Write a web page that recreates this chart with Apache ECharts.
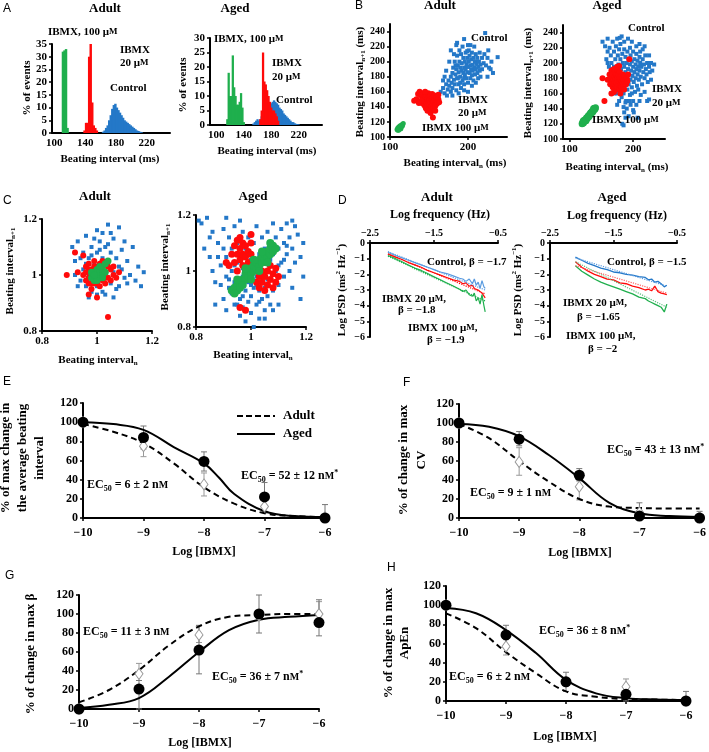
<!DOCTYPE html>
<html><head><meta charset="utf-8">
<script src="https://cdn.jsdelivr.net/npm/echarts@6/dist/echarts.min.js"></script>
<style>html,body{margin:0;padding:0;background:#fff}#c{width:709px;height:752px}</style>
</head><body><div id="c"></div>
<script>
// ---------- DATA ----------
// A: histograms [beating interval (ms), % of events], 2-ms bins
const histAdultControl = [[163,0.5],[165,1],[167,2],[169,3],[171,5],[173,7],[175,9.5],[177,11],[179,11.5],[181,10],[183,9],[185,8],[187,7],[189,6],[191,5],[193,4.5],[195,4],[197,3.5],[199,3],[201,2.5],[203,2],[205,1.5],[207,1],[209,0.8],[211,0.5],[213,0.3]];
const histAdultIBMX20 = [[139,1],[141,4],[143,4],[145,30],[147,35],[149,12],[151,3],[153,2],[155,1]];
const histAdultIBMX100 = [[111,32],[113,32.5],[115,33],[117,2]];
const histAgedControl = [[154,0.5],[156,1],[158,1.5],[160,2],[162,1.5],[164,2],[166,3],[168,4],[170,5],[172,5.5],[174,6],[176,6.5],[178,7],[180,7.5],[182,8],[184,8.5],[186,8],[188,7.5],[190,7],[192,6],[194,5.5],[196,5],[198,4],[200,3.5],[202,3],[204,2.5],[206,2],[208,1.5],[210,1],[212,1],[214,0.6],[216,0.4],[218,0.3],[220,0.2]];
const histAgedIBMX20 = [[164,2],[166,5],[168,25],[170,15],[172,14],[174,12],[176,10],[178,8],[180,6],[182,5],[184,5],[186,4],[188,3],[190,1.5]];
const histAgedIBMX100 = [[116,2],[118,18],[120,10],[122,10],[124,24],[126,13],[128,10],[130,7],[132,7],[134,8],[136,11],[138,6],[140,1]];
const histTicks = [100,140,180,220];
const histBin = 2;

// B: return maps [interval n, interval n+1] (ms)
const bAdultControl = [[165,160],[168,165],[170,158],[172,170],[174,163],[175,175],[176,168],[178,160],[178,180],[179,172],[180,185],[180,165],[181,192],[182,176],[183,170],[183,200],[184,183],[185,162],[185,190],[186,178],[186,208],[187,195],[188,170],[188,186],[189,200],[189,215],[190,180],[190,192],[191,165],[191,210],[192,188],[192,198],[193,175],[193,220],[194,185],[194,205],[195,192],[195,170],[196,200],[196,182],[197,212],[197,190],[198,178],[198,196],[199,205],[199,186],[200,193],[200,172],[201,200],[201,215],[202,185],[202,208],[203,195],[203,178],[204,190],[204,203],[205,182],[205,212],[206,196],[206,188],[207,175],[207,205],[208,192],[209,200],[209,183],[210,210],[210,190],[211,197],[212,185],[212,205],[213,193],[214,200],[215,188],[215,212],[216,196],[218,205],[218,190],[220,198],[221,210],[223,195],[225,205],[227,192],[230,200],[238,206],[232,185],[216,180],[195,230],[222,238],[185,222],[178,215],[172,188],[176,200],[182,210],[170,180],[168,175],[173,155],[180,155],[188,158],[195,162],[200,160],[205,168],[210,172],[213,178],[186,225],[200,222],[208,220],[226,215],[229,190],[225,180],[190,172],[184,195],[187,178],[195,178],[199,214],[203,222]];
const bAdultIBMX20 = [[131,148],[134,150],[136,157],[138,160],[140,155],[141,145],[142,150],[143,158],[144,142],[145,148],[145,153],[146,138],[147,145],[147,155],[148,150],[148,141],[149,147],[149,158],[150,152],[150,144],[151,137],[151,149],[152,155],[152,146],[153,140],[153,151],[154,148],[154,157],[155,143],[155,152],[156,146],[156,138],[157,150],[157,155],[158,145],[158,141],[159,149],[160,153],[160,144],[161,147],[162,150],[163,146],[155,126],[148,135],[152,132],[145,160],[140,148],[137,145],[158,135],[162,156]];
const bAdultIBMX100 = [[109,110],[110,112],[110,109],[111,113],[111,111],[112,110],[112,114],[113,112],[113,115],[114,113],[114,111],[115,116],[115,114],[116,115],[116,117],[117,118],[112,112],[113,113],[114,115],[111,109]];
const bAgedControl = [[152,228],[156,222],[160,215],[160,232],[163,220],[165,210],[166,200],[168,228],[170,215],[170,195],[172,205],[173,222],[175,232],[175,188],[176,210],[177,198],[178,218],[179,180],[180,205],[180,225],[181,192],[182,170],[183,212],[184,185],[184,200],[185,160],[186,218],[186,195],[187,175],[188,208],[188,188],[189,150],[190,200],[190,180],[191,215],[191,165],[192,192],[193,205],[193,172],[194,185],[195,198],[195,158],[196,210],[196,178],[197,190],[198,202],[198,168],[199,183],[200,195],[200,215],[201,175],[202,205],[202,188],[203,162],[204,198],[204,180],[205,212],[205,192],[206,170],[207,203],[207,185],[208,195],[209,178],[210,208],[210,190],[211,200],[212,182],[213,195],[214,172],[215,205],[216,188],[217,198],[218,180],[219,210],[220,192],[221,185],[222,200],[223,175],[225,195],[226,188],[228,200],[230,190],[233,198],[215,218],[210,225],[205,222],[198,228],[192,232],[182,235],[208,165],[212,158],[218,162],[222,150],[225,152],[200,150],[196,145],[190,140],[186,135],[183,120],[185,118],[193,130],[188,148],[178,150],[174,160],[170,175],[165,185],[162,195],[158,205],[168,185],[180,162],[185,142],[200,138],[205,145],[210,150],[198,160],[176,175],[172,185],[182,155],[194,150],[188,128],[225,210],[218,222],[228,178],[211,215],[195,220],[186,228],[179,233],[160,200],[167,192],[171,160],[175,145],[201,135],[207,128]];
const bAgedIBMX20 = [[152,180],[155,150],[160,178],[163,185],[164,172],[165,180],[166,190],[167,175],[168,168],[168,185],[169,178],[170,172],[170,192],[171,182],[171,165],[172,176],[172,188],[173,170],[173,180],[174,185],[174,174],[175,168],[175,178],[176,190],[176,182],[177,172],[177,185],[178,176],[178,165],[179,180],[179,188],[180,170],[180,178],[181,183],[181,173],[182,176],[182,168],[183,180],[184,174],[184,185],[185,170],[185,178],[186,182],[187,175],[188,178],[189,172],[190,180],[191,176],[175,195],[178,196],[170,162],[180,160],[186,165],[192,185],[194,205],[166,160]];
const bAgedIBMX100 = [[120,120],[121,122],[122,121],[123,123],[124,125],[125,124],[126,126],[127,128],[128,127],[129,129],[130,131],[131,130],[132,132],[133,134],[134,133],[135,135],[136,137],[137,136],[138,138],[139,140],[140,139],[141,141],[122,124],[126,124],[130,129],[134,135],[138,140]];
const bTicksY = [100,120,140,160,180,200,220,240];
const bTicksX = [100,200];

// C: normalized return maps
const cAdultControl = [[0.91,1.10],[0.92,1.05],[0.93,1.12],[0.94,0.98],[0.95,1.08],[0.95,1.02],[0.96,1.14],[0.96,0.96],[0.97,1.06],[0.97,1.00],[0.98,1.10],[0.98,0.94],[0.99,1.04],[0.99,0.98],[1.00,1.16],[1.00,1.08],[1.00,0.96],[1.01,1.12],[1.01,1.02],[1.02,1.06],[1.02,0.94],[1.03,1.10],[1.03,0.99],[1.04,1.18],[1.04,1.04],[1.05,1.08],[1.05,0.97],[1.06,1.13],[1.06,1.01],[1.07,1.06],[1.07,0.95],[1.08,1.17],[1.08,1.03],[1.09,1.09],[1.10,0.99],[1.11,1.05],[1.12,1.00],[1.13,1.10],[1.14,0.98],[1.15,1.03],[1.16,0.96],[1.17,1.01],[0.96,1.04],[0.99,1.13],[1.02,1.15],[1.05,1.15],[0.94,1.06],[1.03,0.93],[1.08,0.96],[1.10,1.12],[0.97,0.92],[1.00,0.93],[1.06,0.92],[1.11,0.97],[0.93,0.96],[0.92,1.00],[1.09,1.02],[1.04,1.11],[0.98,1.07],[1.01,1.09]];
const cAdultIBMX20 = [[0.89,1.00],[0.92,1.08],[0.95,1.07],[0.93,1.01],[0.97,0.93],[1.00,0.92],[1.04,0.85],[0.95,1.00],[0.96,1.03],[0.96,0.98],[0.97,1.04],[0.97,0.99],[0.98,1.02],[0.98,0.97],[0.99,1.03],[0.99,0.99],[1.00,1.03],[1.00,0.97],[1.01,1.04],[1.01,1.00],[1.02,0.98],[1.02,1.03],[1.03,1.01],[1.03,0.97],[1.04,1.03],[1.04,0.99],[1.05,1.02],[1.05,0.98],[1.06,1.00],[1.06,1.03],[1.07,0.99],[1.08,1.01],[0.98,0.95],[1.01,0.96],[0.99,1.05],[1.02,1.05],[0.96,1.01],[1.03,0.99],[0.97,1.02],[1.00,1.01],[0.98,1.00],[1.01,1.02],[0.99,0.97],[1.02,1.01],[0.97,0.97]];
const cAdultIBMX100 = [[0.98,0.99],[0.99,1.01],[0.99,0.98],[1.00,1.00],[1.00,1.02],[1.01,0.99],[1.01,1.01],[1.02,1.00],[1.02,1.02],[1.03,1.01],[0.98,1.01],[1.00,0.98],[1.01,1.03],[1.03,1.04],[1.04,1.05],[0.99,1.00],[1.02,0.99]];
const cAgedControl = [[0.81,1.18],[0.82,1.17],[0.84,1.19],[0.85,1.12],[0.86,1.00],[0.87,0.88],[0.88,1.10],[0.89,0.95],[0.90,1.15],[0.90,0.90],[0.91,1.05],[0.91,0.86],[0.92,1.12],[0.92,0.97],[0.93,1.08],[0.93,0.92],[0.94,1.16],[0.94,1.02],[0.94,0.88],[0.95,1.10],[0.95,0.95],[0.96,1.06],[0.96,0.90],[0.96,0.84],[0.97,1.14],[0.97,0.98],[0.97,0.87],[0.98,1.08],[0.98,0.93],[0.98,0.82],[0.99,1.12],[0.99,0.96],[0.99,0.89],[1.00,1.04],[1.00,0.91],[1.00,0.85],[1.01,1.10],[1.01,0.94],[1.01,0.80],[1.02,1.16],[1.02,0.98],[1.02,0.88],[1.03,1.06],[1.03,0.93],[1.03,0.83],[1.04,1.12],[1.04,0.96],[1.04,0.90],[1.05,1.08],[1.05,0.94],[1.05,0.86],[1.06,1.14],[1.06,1.03],[1.06,0.91],[1.07,1.10],[1.07,0.97],[1.08,1.06],[1.08,0.93],[1.09,1.12],[1.09,1.00],[1.10,1.08],[1.10,0.95],[1.11,1.15],[1.11,1.03],[1.12,1.10],[1.12,0.98],[1.13,1.06],[1.14,1.12],[1.14,1.00],[1.15,1.18],[1.15,1.08],[1.16,1.03],[1.17,1.13],[1.18,1.05],[1.18,0.90],[1.19,1.10],[1.19,0.98],[1.15,0.94],[1.10,0.88],[1.08,0.86],[0.88,1.05],[0.86,1.14],[0.83,1.08],[0.87,0.96],[0.89,1.02],[0.93,1.00],[0.95,1.03],[0.97,1.01],[0.99,1.03],[1.01,1.01],[1.03,1.02],[1.05,1.00],[1.07,1.04],[0.96,0.97],[0.98,0.99],[1.00,0.97],[1.02,0.95],[1.04,0.98],[1.06,0.97],[1.08,0.99],[1.10,1.02],[1.12,1.04],[1.13,1.09],[0.92,0.94],[0.94,0.96],[1.00,0.95],[0.97,0.91],[1.03,0.89],[0.95,0.88],[1.05,0.83],[1.07,0.88],[0.91,0.98],[0.90,1.08],[0.85,1.05],[1.16,1.16],[1.13,1.17],[1.08,1.17],[0.96,1.18],[0.91,1.19]];
const cAgedIBMX20 = [[0.93,1.06],[0.94,1.09],[0.94,1.03],[0.95,1.11],[0.95,1.06],[0.95,1.00],[0.96,1.08],[0.96,1.04],[0.96,1.12],[0.97,1.10],[0.97,1.06],[0.97,1.02],[0.98,1.09],[0.98,1.05],[0.98,1.00],[0.99,1.07],[0.99,1.03],[1.00,1.06],[1.00,1.10],[1.01,1.04],[0.99,0.99],[1.02,0.96],[1.02,1.00],[1.03,0.94],[1.03,0.98],[1.03,1.02],[1.04,0.96],[1.04,1.00],[1.05,0.93],[1.05,0.98],[1.05,1.03],[1.06,0.95],[1.06,1.00],[1.07,0.97],[1.07,1.02],[1.08,0.94],[1.08,0.99],[1.09,0.96],[1.09,1.01],[1.10,0.98],[1.04,1.05],[1.06,1.05],[0.92,1.02],[0.91,1.03],[0.97,0.96],[0.98,0.86],[0.96,0.87],[1.00,1.13]];
const cAgedIBMX100 = [[0.93,0.93],[0.94,0.94],[0.95,0.95],[0.95,0.93],[0.96,0.96],[0.96,0.94],[0.97,0.97],[0.98,0.97],[0.98,0.99],[0.99,0.98],[0.99,1.00],[1.00,0.99],[1.00,1.01],[1.01,1.00],[1.01,1.02],[1.02,1.01],[1.02,1.03],[1.03,1.02],[1.03,1.04],[1.04,1.03],[1.04,1.05],[1.05,1.04],[1.05,1.06],[1.06,1.05],[1.06,1.07],[1.07,1.06],[1.07,1.08],[1.08,1.07],[1.08,1.09],[1.09,1.08],[0.94,0.92],[0.97,0.95],[1.00,0.97],[1.03,1.00],[1.06,1.03],[0.95,0.97],[0.98,1.01],[1.01,1.04],[1.04,1.07],[1.07,1.10]];
const cTicks = [0.8,1,1.2];

// D: power spectra (log frequency, log PSD)
const dAdultFreq = [-2.22,-2.1,-2.0,-1.9,-1.8,-1.7,-1.6,-1.5,-1.4,-1.3,-1.2,-1.1,-1.05,-1.0,-0.95,-0.9,-0.87,-0.84,-0.81,-0.78,-0.75,-0.72,-0.7];
const dAdultControl = [-0.6,-0.8,-0.95,-1.1,-1.25,-1.4,-1.55,-1.7,-1.85,-1.95,-2.1,-2.25,-2.3,-2.45,-2.3,-2.6,-2.3,-2.7,-2.5,-2.9,-2.4,-2.8,-2.9];
const dAdultIBMX20 = [-0.7,-0.9,-1.05,-1.25,-1.4,-1.55,-1.75,-1.9,-2.05,-2.2,-2.35,-2.45,-2.6,-2.55,-2.75,-2.7,-2.9,-2.8,-3.0,-2.95,-3.2,-3.3,-3.5];
const dAdultIBMX100 = [-0.8,-1.0,-1.2,-1.4,-1.6,-1.75,-1.95,-2.15,-2.35,-2.55,-2.75,-2.95,-3.1,-3.0,-3.3,-3.4,-3.2,-3.7,-3.5,-3.9,-3.3,-4.0,-4.4];
const dAdultFitX = [-2.22,-0.7];
const dAdultFitControl = [-0.55,-3.0];
const dAdultFitIBMX20 = [-0.7,-3.25];
const dAdultFitIBMX100 = [-0.85,-3.7];
const dAgedFreq = [-2.1,-2.0,-1.9,-1.8,-1.7,-1.6,-1.5,-1.4,-1.3,-1.2,-1.1,-1.0,-0.95,-0.9,-0.85,-0.8,-0.75,-0.7,-0.66];
const dAgedControl = [-0.9,-1.1,-1.3,-1.45,-1.6,-1.7,-1.85,-1.9,-2.0,-2.05,-2.15,-2.2,-2.35,-2.3,-2.5,-2.45,-2.6,-2.8,-2.7];
const dAgedIBMX20 = [-1.2,-1.55,-1.8,-2.0,-2.15,-2.3,-2.35,-2.55,-2.6,-2.75,-2.85,-3.0,-2.95,-3.05,-2.75,-3.1,-3.2,-3.25,-3.3];
const dAgedIBMX100 = [-1.45,-1.8,-2.05,-2.3,-2.5,-2.65,-2.8,-2.95,-3.1,-3.25,-3.45,-3.55,-3.7,-3.8,-3.9,-4.0,-4.1,-4.4,-3.9];
const dAgedFitX = [-2.1,-0.66];
const dAgedFitControl = [-0.95,-2.75];
const dAgedFitIBMX20 = [-1.45,-3.2];
const dAgedFitIBMX100 = [-1.2,-4.1];
const dTicksX = [-2.5,-1.5,-0.5];
const dTicksY = [0,-1,-2,-3,-4,-5,-6];

// E-H: dose-response (log [IBMX], %)
const doseTicksX = [-10,-9,-8,-7,-6];
const doseTicksY = [0,20,40,60,80,100,120];
const eAged = [[-10,100],[-9,84],[-8,59],[-7,22],[-6,0]];
const eAdult = [[-10,100],[-9,75],[-8,35],[-7,12],[-6,1]];
const eAgedErr = [[-9,72,96],[-8,49,69],[-7,7,37],[-6,0,14]];
const eAdultErr = [[-9,64,86],[-8,23,47],[-7,5,20]];
const eAgedFit = [[-10,100],[-9.5,98],[-9,92],[-8.5,74],[-8,57],[-7.75,42],[-7.5,25],[-7,7],[-6.5,2],[-6,1]];
const eAdultFit = [[-10,98],[-9.5,90],[-9,78],[-8.5,57],[-8,32],[-7.5,15],[-7,5],[-6.5,2],[-6,1]];
const fAged = [[-10,100],[-9,83],[-8,45],[-7,2],[-6,0]];
const fAdult = [[-10,100],[-9,59],[-8,33],[-7,6],[-6,1]];
const fAgedErr = [[-9,76,91],[-8,39,52],[-7,0,16],[-6,0,7]];
const fAdultErr = [[-9,45,74],[-8,19,40]];
const fAgedFit = [[-10,99],[-9.5,96],[-9,86],[-8.5,66],[-8,42],[-7.5,16],[-7,5],[-6.5,2],[-6,1]];
const fAdultFit = [[-10,99],[-9.5,84],[-9,60],[-8.5,38],[-8,20],[-7.5,12],[-7,10.5],[-6.5,10],[-6,10]];
const gAged = [[-10,0],[-9,21],[-8,62],[-7,100],[-6,91]];
const gAdult = [[-10,0],[-9,37],[-8,78],[-7,98],[-6,100]];
const gAgedErr = [[-9,0,30],[-8,37,88],[-7,80,120],[-6,77,115]];
const gAdultErr = [[-9,30,48],[-8,70,88],[-6,90,113]];
const gAgedFit = [[-10,1],[-9.5,4.5],[-9,11.5],[-8.5,34],[-8,60],[-7.5,83],[-7,94],[-6.5,97],[-6,99]];
const gAdultFit = [[-10,7],[-9.5,20],[-9,41],[-8.5,67],[-8,87],[-7.5,97],[-7,99],[-6.5,100],[-6,100]];
const hAged = [[-10,100],[-9,69],[-8,20],[-7,7],[-6,0]];
const hAdult = [[-10,100],[-9,57],[-8,20],[-7,15],[-6,0]];
const hAgedErr = [[-9,59,79],[-8,10,30],[-7,0,14],[-6,0,10]];
const hAdultErr = [[-9,48,64],[-7,8,23]];
const hAgedFit = [[-10,97],[-9.5,91.5],[-9,74],[-8.5,50],[-8,22],[-7.5,8],[-7,3],[-6.5,1.5],[-6,1]];
const hAdultFit = [[-10,91.5],[-9.5,76],[-9,51],[-8.5,29],[-8,10],[-7.5,4.5],[-7,2],[-6.5,1.5],[-6,1]];

// ---------- BUILD ----------
const SERIF = '"Liberation Serif","Times New Roman",serif';
const SANS = '"Liberation Sans",Arial,sans-serif';
const BLUE = '#2478c8', RED = '#ff0a0a', GREEN = '#1faf4d';
const BLUE_L = '#5a9be0';
const grids = [], xAxes = [], yAxes = [], series = [], graphics = [];
const PI2 = Math.PI / 2;

function fmt(v) { return v < 0 ? '\u2212' + String(Math.abs(v)) : String(v); }
function axis(min, max, ticks, fs, extra) {
  return Object.assign({
    type: 'value', min, max,
    axisLine: { show: true, onZero: false, lineStyle: { color: '#000', width: 2 } },
    axisTick: { show: true, length: 3, customValues: ticks, lineStyle: { color: '#000', width: 1.5 } },
    axisLabel: { customValues: ticks, color: '#000', fontFamily: SERIF, fontWeight: 'bold', fontSize: fs, margin: 5, formatter: fmt },
    splitLine: { show: false }
  }, extra || {});
}
function addGrid(g, xa, ya) {
  const i = grids.length;
  grids.push({ left: g[0], top: g[1], width: g[2], height: g[3] });
  xa.gridIndex = i; ya.gridIndex = i;
  xAxes.push(xa); yAxes.push(ya);
  return i;
}
function bars(gi, data, color) {
  series.push({ type: 'custom', xAxisIndex: gi, yAxisIndex: gi, data, silent: true,
    itemStyle: { opacity: 1 },
    renderItem(params, api) {
      const x = api.value(0), y = api.value(1);
      const p0 = api.coord([x - histBin / 2, 0]), p1 = api.coord([x + histBin / 2, y]);
      return { type: 'rect', shape: { x: p0[0] - 0.3, y: p1[1], width: p1[0] - p0[0] + 0.9, height: p0[1] - p1[1] },
        style: { fill: color, stroke: null, opacity: 1 } };
    } });
}
function scat(gi, data, color, symbol, size) {
  series.push({ type: 'scatter', xAxisIndex: gi, yAxisIndex: gi, data, symbol, symbolSize: size, itemStyle: { color, opacity: 1 }, silent: true });
}
function zip(xs, ys) { return xs.map((x, i) => [x, ys[i]]); }
function line(gi, data, color, w, type, smooth) {
  series.push({ type: 'line', xAxisIndex: gi, yAxisIndex: gi, data, showSymbol: false, smooth: smooth || false,
    lineStyle: { color, width: w, type: type || 'solid' }, silent: true, z: 3 });
}
function errs(gi, data, color) {
  series.push({ type: 'custom', xAxisIndex: gi, yAxisIndex: gi, data, z: 2, silent: true, clip: false,
    renderItem(params, api) {
      const x = api.value(0), p1 = api.coord([x, api.value(1)]), p2 = api.coord([x, api.value(2)]);
      const s = { stroke: color, lineWidth: 1 };
      return { type: 'group', children: [
        { type: 'line', shape: { x1: p1[0], y1: p1[1], x2: p2[0], y2: p2[1] }, style: s },
        { type: 'line', shape: { x1: p1[0] - 3, y1: p1[1], x2: p1[0] + 3, y2: p1[1] }, style: s },
        { type: 'line', shape: { x1: p2[0] - 3, y1: p2[1], x2: p2[0] + 3, y2: p2[1] }, style: s }
      ] };
    } });
}
function T(x, y, text, o) {
  o = o || {};
  const fs = o.fs || 12, ff = o.ff || SERIF, fw = o.fw || 'bold';
  const r = (k, va) => ({ fontSize: Math.round(fs * k), fontFamily: ff, fontWeight: fw, fill: '#000', verticalAlign: va });
  graphics.push({ type: 'text', x, y, rotation: o.rot || 0, silent: true, z: 100,
    style: { text, fill: '#000', fontSize: fs, fontFamily: ff, fontWeight: fw,
      align: o.align || 'left', verticalAlign: o.va || 'middle', lineHeight: fs + 3,
      rich: { sub: r(0.68, 'bottom'), sc: r(0.8, 'middle'), sup: r(0.68, 'top') } } });
}
function L(x1, y1, x2, y2, dash) {
  graphics.push({ type: 'line', silent: true, shape: { x1, y1, x2, y2 }, style: { stroke: '#000', lineWidth: 2, lineDash: dash || null } });
}

// Panel A
const gA1 = addGrid([52, 44, 118, 89],
  axis(97, 250, histTicks, 11, { axisTick: { show: false } }),
  axis(0, 35, [0,5,10,15,20,25,30,35], 11));
bars(gA1, histAdultControl, BLUE);
bars(gA1, histAdultIBMX20, RED);
bars(gA1, histAdultIBMX100, GREEN);
const gA2 = addGrid([210, 38, 112, 87],
  axis(91, 254, histTicks, 11, { axisTick: { show: false } }),
  axis(0, 30, [0,5,10,15,20,25,30], 11));
bars(gA2, histAgedControl, BLUE);
bars(gA2, histAgedIBMX20, RED);
bars(gA2, histAgedIBMX100, GREEN);

// Panel B
const gB1 = addGrid([390, 24, 117, 113], axis(100, 250, bTicksX, 11), axis(100, 250, bTicksY, 10));
scat(gB1, bAdultControl, BLUE, 'rect', 4);
scat(gB1, bAdultIBMX20, RED, 'circle', 6);
scat(gB1, bAdultIBMX100, GREEN, 'circle', 5);
const gB2 = addGrid([563, 25, 102, 114], axis(90, 250, bTicksX, 11), axis(100, 250, bTicksY, 10));
scat(gB2, bAgedControl, BLUE, 'rect', 4);
scat(gB2, bAgedIBMX20, RED, 'circle', 6);
scat(gB2, bAgedIBMX100, GREEN, 'circle', 7);

// Panel C
const gC1 = addGrid([42, 219, 110, 112], axis(0.8, 1.2, cTicks, 11), axis(0.8, 1.2, cTicks, 11));
scat(gC1, cAdultControl, BLUE, 'rect', 4);
scat(gC1, cAdultIBMX20, RED, 'circle', 6);
scat(gC1, cAdultIBMX100, GREEN, 'circle', 7);
const gC2 = addGrid([196, 215, 110, 112], axis(0.8, 1.2, cTicks, 11), axis(0.8, 1.2, cTicks, 11));
scat(gC2, cAgedControl, BLUE, 'rect', 4);
scat(gC2, cAgedIBMX20, RED, 'circle', 7);
scat(gC2, cAgedIBMX100, GREEN, 'circle', 8);

// Panel D
const gD1 = addGrid([370, 243, 128, 94], axis(-2.5, -0.5, dTicksX, 10, { position: 'top' }), axis(-6, 0, dTicksY, 10));
line(gD1, zip(dAdultFreq, dAdultControl), BLUE_L, 1.2);
line(gD1, zip(dAdultFreq, dAdultIBMX20), RED, 1.2);
line(gD1, zip(dAdultFreq, dAdultIBMX100), GREEN, 1.2);
line(gD1, zip(dAdultFitX, dAdultFitControl), BLUE_L, 1.2, 'dotted');
line(gD1, zip(dAdultFitX, dAdultFitIBMX20), RED, 1.2, 'dotted');
line(gD1, zip(dAdultFitX, dAdultFitIBMX100), GREEN, 1.2, 'dotted');
const gD2 = addGrid([550, 243, 127, 94], axis(-2.5, -0.5, dTicksX, 10, { position: 'top' }), axis(-6, 0, dTicksY, 10));
line(gD2, zip(dAgedFreq, dAgedControl), BLUE, 1.3);
line(gD2, zip(dAgedFreq, dAgedIBMX20), RED, 1.3);
line(gD2, zip(dAgedFreq, dAgedIBMX100), GREEN, 1.3);
line(gD2, zip(dAgedFitX, dAgedFitControl), BLUE_L, 1.2, 'dotted');
line(gD2, zip(dAgedFitX, dAgedFitIBMX20), '#ff6060', 1.2, 'dotted');
line(gD2, zip(dAgedFitX, dAgedFitIBMX100), '#60c080', 1.2, 'dotted');

// Panels E-H
function dose(box, aged, adult, agedErr, adultErr, agedFit, adultFit) {
  const gi = addGrid(box, axis(-10, -6, doseTicksX, 12, { axisLabel: { customValues: doseTicksX, color: '#000', fontFamily: SERIF, fontWeight: 'bold', fontSize: 12, margin: 9, formatter: fmt } }),
    axis(0, 120, doseTicksY, 12));
  errs(gi, adultErr, '#999');
  errs(gi, agedErr, '#777');
  line(gi, agedFit, '#000', 2, 'solid', 0.4);
  line(gi, adultFit, '#000', 2, [6, 4], 0.4);
  series.push({ type: 'scatter', xAxisIndex: gi, yAxisIndex: gi, data: adult, symbol: 'diamond', symbolSize: [8, 11], z: 4, silent: true,
    itemStyle: { color: '#fff', borderColor: '#999', borderWidth: 1, opacity: 1 } });
  series.push({ type: 'scatter', xAxisIndex: gi, yAxisIndex: gi, data: aged, symbol: 'circle', symbolSize: 11, z: 5, silent: true,
    itemStyle: { color: '#000', opacity: 1 } });
  return gi;
}
dose([83, 403, 242, 115], eAged, eAdult, eAgedErr, eAdultErr, eAgedFit, eAdultFit);
dose([459, 404, 241, 114], fAged, fAdult, fAgedErr, fAdultErr, fAgedFit, fAdultFit);
dose([79, 595, 240, 114], gAged, gAdult, gAgedErr, gAdultErr, gAgedFit, gAdultFit);
dose([446, 586, 240, 115], hAged, hAdult, hAgedErr, hAdultErr, hAgedFit, hAdultFit);

// ---------- TEXT ----------
const P = { ff: SANS, fw: 'normal', fs: 12 };
// A
T(3, 9, 'A', P);
T(105, 9, 'Adult', { align: 'center', fs: 13 });
T(235, 9, 'Aged', { align: 'center', fs: 13 });
T(48, 32, 'IBMX, 100 \u03bc{sc|M}', { fs: 11 });
T(120, 50, 'IBMX', { fs: 11 }); T(120, 63, '20 \u03bc{sc|M}', { fs: 11 });
T(110, 88, 'Control', { fs: 11 });
T(27, 88, '% of events', { rot: PI2, align: 'center', fs: 11 });
T(110, 159, 'Beating interval (ms)', { align: 'center', fs: 11 });
T(214, 39, 'IBMX, 100 \u03bc{sc|M}', { fs: 11 });
T(272, 63, 'IBMX', { fs: 11 }); T(272, 77, '20 \u03bc{sc|M}', { fs: 11 });
T(276, 100, 'Control', { fs: 11 });
T(183, 85, '% of events', { rot: PI2, align: 'center', fs: 11 });
T(267, 151, 'Beating interval (ms)', { align: 'center', fs: 11 });
// B
T(355, 6, 'B', P);
T(440, 6, 'Adult', { align: 'center', fs: 13 });
T(607, 6, 'Aged', { align: 'center', fs: 13 });
T(360, 82, 'Beating interval{sub|n+1} (ms)', { rot: PI2, align: 'center', fs: 11 });
T(528, 83, 'Beating interval{sub|n+1} (ms)', { rot: PI2, align: 'center', fs: 11 });
T(455, 163, 'Beating interval{sub|n} (ms)', { align: 'center', fs: 11 });
T(617, 167, 'Beating interval{sub|n} (ms)', { align: 'center', fs: 11 });
T(471, 38, 'Control', { fs: 11 });
T(458, 100, 'IBMX', { fs: 11 }); T(458, 113, '20 \u03bc{sc|M}', { fs: 11 });
T(422, 128, 'IBMX 100 \u03bc{sc|M}', { fs: 11 });
T(628, 28, 'Control', { fs: 11 });
T(652, 89, 'IBMX', { fs: 11 }); T(652, 103, '20 \u03bc{sc|M}', { fs: 11 });
T(592, 120, 'IBMX 100 \u03bc{sc|M}', { fs: 11 });
// C
T(3, 201, 'C', P);
T(95, 197, 'Adult', { align: 'center', fs: 13 });
T(253, 197, 'Aged', { align: 'center', fs: 13 });
T(10, 271, 'Beating interval{sub|n+1}', { rot: PI2, align: 'center', fs: 11 });
T(165, 267, 'Beating interval{sub|n+1}', { rot: PI2, align: 'center', fs: 11 });
T(98, 360, 'Beating interval{sub|n}', { align: 'center', fs: 11 });
T(253, 355, 'Beating interval{sub|n}', { align: 'center', fs: 11 });
// D
T(338, 201, 'D', P);
T(437, 198, 'Adult', { align: 'center', fs: 13 });
T(612, 198, 'Aged', { align: 'center', fs: 13 });
T(440, 215, 'Log frequency (Hz)', { align: 'center', fs: 12 });
T(617, 216, 'Log frequency (Hz)', { align: 'center', fs: 12 });
T(342, 290, 'Log PSD (ms{sup|2} Hz{sup|\u22121})', { rot: PI2, align: 'center', fs: 11 });
T(518, 290, 'Log PSD (ms{sup|2} Hz{sup|\u22121})', { rot: PI2, align: 'center', fs: 11 });
T(427, 262, 'Control, \u03b2 = \u22121.7', { fs: 11 });
T(382, 299, 'IBMX 20 \u03bc{sc|M},', { fs: 11 });
T(398, 310, '\u03b2 = \u22121.8', { fs: 11 });
T(408, 328, 'IBMX 100 \u03bc{sc|M},', { fs: 11 });
T(427, 340, '\u03b2 = \u22121.9', { fs: 11 });
T(607, 262, 'Control, \u03b2 = \u22121.5', { fs: 11 });
T(563, 303, 'IBMX 20 \u03bc{sc|M},', { fs: 11 });
T(577, 317, '\u03b2 = \u22121.65', { fs: 11 });
T(566, 336, 'IBMX 100 \u03bc{sc|M},', { fs: 11 });
T(588, 349, '\u03b2 = \u22122', { fs: 11 });
// E
T(3, 382, 'E', P);
T(6, 458, '% of max change in', { rot: PI2, align: 'center', fs: 13 });
T(23, 458, 'the average beating', { rot: PI2, align: 'center', fs: 13 });
T(40, 458, 'interval', { rot: PI2, align: 'center', fs: 13 });
L(237, 416, 275, 416, [6, 3]); T(283, 416, 'Adult', { fs: 13 });
L(237, 434, 275, 434); T(283, 434, 'Aged', { fs: 13 });
T(87, 485, 'EC{sub|50} = 6 \u00b1 2 n{sc|M}', { fs: 12 });
T(241, 476, 'EC{sub|50} = 52 \u00b1 12 n{sc|M}{sup|*}', { fs: 12 });
T(204, 552, 'Log [IBMX]', { align: 'center', fs: 12 });
// F
T(403, 383, 'F', P);
T(404, 460, '% of change in max', { rot: PI2, align: 'center', fs: 13 });
T(422, 460, 'CV', { rot: PI2, align: 'center', fs: 13 });
T(607, 450, 'EC{sub|50} = 43 \u00b1 13 n{sc|M}{sup|*}', { fs: 12 });
T(470, 493, 'EC{sub|50} = 9 \u00b1 1 n{sc|M}', { fs: 12 });
T(580, 553, 'Log [IBMX]', { align: 'center', fs: 12 });
// G
T(5, 576, 'G', P);
T(31, 654, '% of change in max \u03b2', { rot: PI2, align: 'center', fs: 13 });
T(83, 632, 'EC{sub|50} = 11 \u00b1 3 n{sc|M}', { fs: 12 });
T(212, 677, 'EC{sub|50} = 36 \u00b1 7 n{sc|M}{sup|*}', { fs: 12 });
T(200, 743, 'Log [IBMX]', { align: 'center', fs: 12 });
// H
T(387, 568, 'H', P);
T(389, 643, '% of change in max', { rot: PI2, align: 'center', fs: 13 });
T(405, 643, 'ApEn', { rot: PI2, align: 'center', fs: 13 });
T(539, 631, 'EC{sub|50} = 36 \u00b1 8 n{sc|M}{sup|*}', { fs: 12 });
T(449, 677, 'EC{sub|50} = 6 \u00b1 2 n{sc|M}', { fs: 12 });
T(565, 737, 'Log [IBMX]', { align: 'center', fs: 12 });

const chart = echarts.init(document.getElementById('c'), null, { renderer: 'canvas' });
chart.setOption({ animation: false, backgroundColor: '#fff', grid: grids, xAxis: xAxes, yAxis: yAxes, series, graphic: graphics });
</script></body></html>
